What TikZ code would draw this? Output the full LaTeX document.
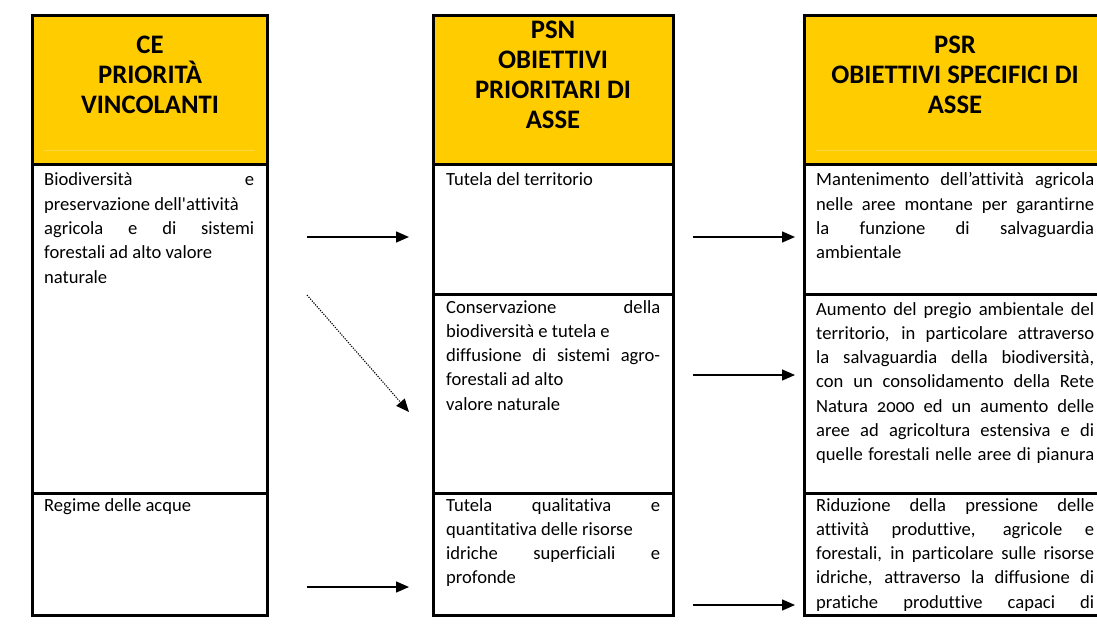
\documentclass[tikz,border=0pt]{standalone}
\usepackage{fontspec}
\setmainfont{Carlito}[Numbers=OldStyle, Ligatures={TeX,NoCommon}]
\usetikzlibrary{arrows.meta}
\definecolor{hdr}{HTML}{FFCC00}
\definecolor{faint}{HTML}{FFD740}
\newcommand{\bodyfont}{\fontsize{18.6}{24.3}\selectfont}
\newcommand{\hdrfont}{\fontsize{26.7}{30}\selectfont\bfseries}
\newcommand{\sline}[1]{\makebox[\linewidth][s]{#1}}
\begin{document}
\begin{tikzpicture}[x=1pt,y=-1pt,
  cell/.style={draw, line width=3pt, rectangle, anchor=north west, inner sep=0pt, outer sep=0pt},
  hcell/.style={cell, fill=hdr},
  body/.style={anchor=base west, inner sep=0pt, font=\bodyfont},
  head/.style={anchor=base, inner sep=0pt, font=\hdrfont},
  arr/.style={-{Triangle[length=13pt,width=11pt]}, line width=1.4pt},
  darr/.style={arr, dash pattern=on 1.2pt off 1.3pt, line width=1.1pt}]
\useasboundingbox (0,0) rectangle (1097,628);
% left column
\node[hcell, minimum width=235pt, minimum height=149pt] (lh) at (32,16) {};
\node[cell, minimum width=235pt, minimum height=328pt] (l1) at (32,165) {};
\node[cell, minimum width=235pt, minimum height=122pt] (l2) at (32,493) {};
% middle column
\node[hcell, minimum width=240pt, minimum height=149pt] (mh) at (433,16) {};
\node[cell, minimum width=240pt, minimum height=129pt] (m1) at (433,165) {};
\node[cell, minimum width=240pt, minimum height=199pt] (m2) at (433,294) {};
\node[cell, minimum width=240pt, minimum height=122pt] (m3) at (433,493) {};
% right column
\node[hcell, minimum width=302pt, minimum height=149pt] (rh) at (804,16) {};
\node[cell, minimum width=302pt, minimum height=129pt] (r1) at (804,165) {};
\node[cell, minimum width=302pt, minimum height=199pt] (r2) at (804,294) {};
% faint lines in headers
\draw[faint, line width=0.6pt] (44,150) -- (255,150);
\draw[faint, line width=0.6pt] (816,150) -- (1097,150);
% headers
\node[head] (lht) at (150,54) {\parbox[t]{220pt}{\centering CE\\PRIORITÀ\\VINCOLANTI}};
\node[head] (mht) at (553,39) {\parbox[t]{225pt}{\centering PSN\\OBIETTIVI\\PRIORITARI DI\\ASSE}};
\node[head] (rht) at (955,54) {\parbox[t]{290pt}{\centering PSR\\OBIETTIVI SPECIFICI DI\\ASSE}};
% body texts
\node[body] (lt1) at (44,186) {\parbox[t]{210pt}{\sline{Biodiversità e}\\preservazione dell\textquotesingle attività\\\sline{agricola e di sistemi}\\forestali ad alto valore\\naturale}};
\node[body] (lt2) at (44,511) {\parbox[t]{210pt}{Regime delle acque}};
\node[body] (mt1) at (446,186) {\parbox[t]{214pt}{Tutela del territorio}};
\node[body] (mt2) at (446,313) {\parbox[t]{214pt}{\sline{Conservazione della}\\biodiversità e tutela e\\\sline{diffusione di sistemi agro-}\\forestali ad alto\\valore naturale}};
\node[body] (mt3) at (446,511) {\parbox[t]{214pt}{\sline{Tutela qualitativa e}\\quantitativa delle risorse\\\sline{idriche superficiali e}\\profonde}};
\node[body] (rt1) at (816,186) {\parbox[t]{278pt}{\sline{Mantenimento dell’attività agricola}\\\sline{nelle aree montane per garantirne}\\\sline{la funzione di salvaguardia}\\ambientale}};
\node[body] (rt2) at (816,315) {\parbox[t]{278pt}{\sline{Aumento del pregio ambientale del}\\\sline{territorio, in particolare attraverso}\\\sline{la salvaguardia della biodiversità,}\\\sline{con un consolidamento della Rete}\\\sline{Natura 2000 ed un aumento delle}\\\sline{aree ad agricoltura estensiva e di}\\\sline{quelle forestali nelle aree di pianura}}};
\node[body] (rt3) at (816,511) {\parbox[t]{278pt}{\sline{Riduzione della pressione delle}\\\sline{attività produttive, agricole e}\\\sline{forestali, in particolare sulle risorse}\\\sline{idriche, attraverso la diffusione di}\\\sline{pratiche produttive capaci di}}};
% white-out below right bottom cell and its border
\fill[white] (800,616.5) rectangle (1110,640);
\node[cell, minimum width=302pt, minimum height=122pt] (r3) at (804,493) {};
% arrows
\coordinate (a1s) at (307,237); \coordinate (a1e) at (409,237);
\coordinate (a2s) at (693,237); \coordinate (a2e) at (795,237);
\coordinate (dss) at (307,295); \coordinate (dse) at (409,412);
\coordinate (a3s) at (307,587); \coordinate (a3e) at (409,587);
\coordinate (a4s) at (693,375); \coordinate (a4e) at (795,375);
\coordinate (a5s) at (693,605); \coordinate (a5e) at (795,605);
\draw[arr] (a1s) -- (a1e);
\draw[arr] (a2s) -- (a2e);
\draw[darr] (dss) -- (dse);
\draw[arr] (a3s) -- (a3e);
\draw[arr] (a4s) -- (a4e);
\draw[arr] (a5s) -- (a5e);
\end{tikzpicture}
\end{document}
